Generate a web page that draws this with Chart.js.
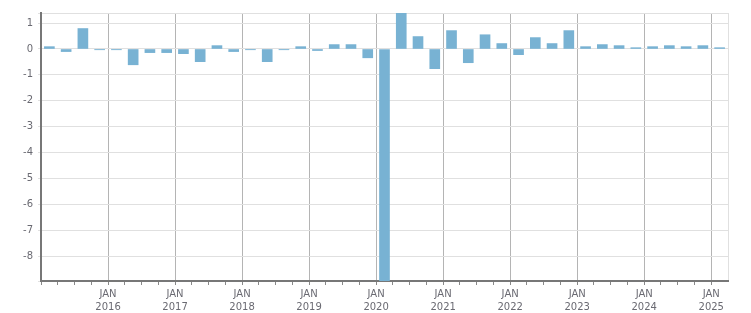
<!DOCTYPE html>
<html>
<head>
<meta charset="utf-8">
<script src="https://cdn.jsdelivr.net/npm/chart.js@4.4.1/dist/chart.umd.min.js"></script>
<style>
  html, body { margin: 0; padding: 0; background: #fff; }
  #wrap { width: 751px; height: 313px; }
</style>
</head>
<body>
<div id="wrap"><canvas id="qchart"></canvas></div>
<script>
// quarters, plotted at mid-quarter (year + fraction)
var quarters = [
  2015.125, 2015.375, 2015.625, 2015.875,
  2016.125, 2016.375, 2016.625, 2016.875,
  2017.125, 2017.375, 2017.625, 2017.875,
  2018.125, 2018.375, 2018.625, 2018.875,
  2019.125, 2019.375, 2019.625, 2019.875,
  2020.125, 2020.375, 2020.625, 2020.875,
  2021.125, 2021.375, 2021.625, 2021.875,
  2022.125, 2022.375, 2022.625, 2022.875,
  2023.125, 2023.375, 2023.625, 2023.875,
  2024.125, 2024.375, 2024.625, 2024.875,
  2025.125
];
var values = [
  0.09, -0.10, 0.79, -0.03,
  -0.03, -0.61, -0.14, -0.14,
  -0.18, -0.49, 0.13, -0.10,
  -0.03, -0.49, -0.03, 0.09,
  -0.06, 0.17, 0.17, -0.34,
  -8.96, 1.39, 0.48, -0.76,
  0.71, -0.53, 0.55, 0.21,
  -0.22, 0.44, 0.21, 0.71,
  0.09, 0.17, 0.13, 0.05,
  0.09, 0.13, 0.09, 0.13,
  0.05
];
var yearTicks = [2016, 2017, 2018, 2019, 2020, 2021, 2022, 2023, 2024, 2025];
var yTicks = [-8, -7, -6, -5, -4, -3, -2, -1, 0, 1];
var xStart = 2015, xEnd = 2025.25;
var yLow = -8.96, yHigh = 1.39;

var points = quarters.map(function (q, i) { return { x: q, y: values[i] }; });
var font = { family: 'DejaVu Sans', size: 10, lineHeight: 1.3 };

var ctx = document.getElementById('qchart').getContext('2d');
var chart = new Chart(ctx, {
  type: 'bar',
  data: {
    datasets: [{
      data: points,
      backgroundColor: '#78b2d3',
      barThickness: 10,
      borderWidth: 0
    }]
  },
  options: {
    responsive: true,
    maintainAspectRatio: false,
    animation: false,
    layout: { padding: { left: 0, right: 23, top: 13, bottom: 0 } },
    plugins: { legend: { display: false }, tooltip: { enabled: false } },
    scales: {
      x: {
        type: 'linear',
        min: xStart,
        max: xEnd,
        offset: false,
        ticks: {
          stepSize: 0.25,
          autoSkip: false,
          maxRotation: 0,
          padding: 3,
          color: '#6a6a72',
          font: font,
          callback: function (v) {
            return yearTicks.indexOf(v) >= 0 ? ['JAN', String(v)] : '';
          }
        },
        grid: {
          offset: false,
          color: function (c) {
            if (!c.tick) return 'rgba(0,0,0,0)';
            if (c.tick.value === xEnd) return '#e0e0e0';
            return yearTicks.indexOf(c.tick.value) >= 0 ? '#b4b4b4' : 'rgba(0,0,0,0)';
          },
          tickColor: function (c) {
            if (!c.tick) return '#888';
            return c.tick.value === xEnd ? 'rgba(0,0,0,0)' : '#888';
          },
          tickLength: 4,
          lineWidth: 1
        },
        border: { color: '#777', width: 2 },
        afterFit: function (s) { s.height = 32; }
      },
      y: {
        min: yLow,
        max: yHigh,
        afterBuildTicks: function (s) {
          s.ticks = [yLow].concat(yTicks, [yHigh]).map(function (v) { return { value: v }; });
        },
        ticks: {
          padding: 5,
          color: '#6a6a72',
          font: { family: 'DejaVu Sans', size: 10 },
          callback: function (v) {
            return yTicks.indexOf(v) >= 0 ? String(v) : '';
          }
        },
        grid: {
          color: '#e0e0e0',
          tickColor: '#e0e0e0',
          tickLength: 3,
          lineWidth: 1
        },
        border: { color: '#777', width: 2 },
        afterFit: function (s) { s.width = 41; }
      }
    }
  }
});
</script>
</body>
</html>
